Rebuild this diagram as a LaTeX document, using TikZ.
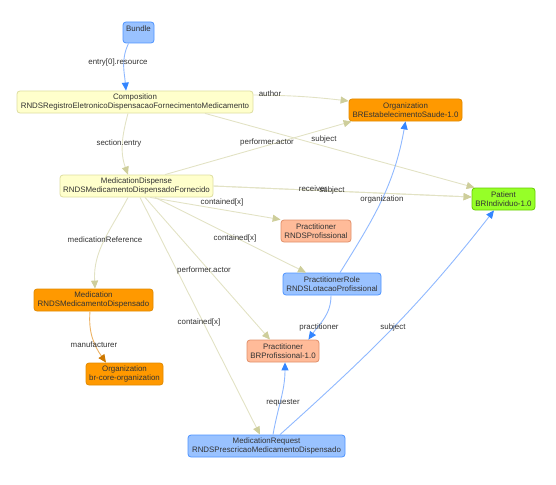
\documentclass[tikz,border=0pt]{standalone}
\usepackage{fontspec}
\setmainfont{Liberation Sans}
\usepackage{tikz}
\usetikzlibrary{arrows.meta}
\definecolor{figtext}{RGB}{51,51,51}
\definecolor{bluefill}{RGB}{153,194,255}
\definecolor{blueline}{RGB}{77,148,255}
\definecolor{compfill}{RGB}{255,255,204}
\definecolor{compline}{RGB}{221,221,160}
\definecolor{orgfill}{RGB}{255,153,0}
\definecolor{orgline}{RGB}{224,138,0}
\definecolor{patfill}{RGB}{150,255,40}
\definecolor{patline}{RGB}{102,204,0}
\definecolor{prfill}{RGB}{255,187,153}
\definecolor{prline}{RGB}{224,144,106}
\definecolor{oedgeline}{RGB}{226,226,196}
\definecolor{oedgetip}{RGB}{206,206,155}
\definecolor{bedgeline}{RGB}{143,184,255}
\definecolor{bedgetip}{RGB}{51,133,255}
\definecolor{medgeline}{RGB}{236,178,100}
\definecolor{medgetip}{RGB}{204,119,0}
\tikzset{
  res/.style   ={rounded corners=3pt, line width=0.8pt, inner sep=0pt, align=center,
                 text=figtext, font=\fontsize{7.9}{8.5}\selectfont},
  resb/.style  ={res, draw=blueline, fill=bluefill},
  resc/.style  ={res, draw=compline, fill=compfill},
  reso/.style  ={res, draw=orgline, fill=orgfill},
  resg/.style  ={res, draw=patline, fill=patfill},
  resp/.style  ={res, draw=prline, fill=prfill},
  elab/.style  ={font=\fontsize{7.9}{8.5}\selectfont, text=figtext, inner sep=0.5pt},
  oedge/.style ={draw=oedgeline, line width=0.9pt, -{Triangle[length=8pt,width=7pt,color=oedgetip]}},
  bedge/.style ={draw=bedgeline, line width=0.9pt, -{Triangle[length=8pt,width=7pt,color=bedgetip]}},
  medge/.style ={draw=medgeline, line width=0.9pt, -{Triangle[length=8pt,width=7pt,color=medgetip]}},
}
\begin{document}
\begin{tikzpicture}[x=1pt,y=-1pt]
  \useasboundingbox (0,0) rectangle (556,484);
  \node[resb,minimum width=31pt,minimum height=21pt] (bundle) at (138.5,32.5) {Bundle\\~};
  \node[resc,minimum width=236pt,minimum height=22pt] (comp) at (135,102) {Composition\\RNDSRegistroEletronicoDispensacaoFornecimentoMedicamento};
  \node[reso,minimum width=113pt,minimum height=22pt] (orgest) at (405.5,110) {Organization\\BREstabelecimentoSaude-1.0};
  \node[resc,minimum width=153pt,minimum height=22pt] (mdisp) at (136.5,186) {MedicationDispense\\RNDSMedicamentoDispensadoFornecido};
  \node[resg,minimum width=63pt,minimum height=22pt] (patient) at (503.5,199) {Patient\\BRIndividuo-1.0};
  \node[resp,minimum width=70pt,minimum height=22pt] (pract) at (316,231) {Practitioner\\RNDSProfissional};
  \node[resb,minimum width=98pt,minimum height=22pt] (prole) at (332,284) {PractitionerRole\\RNDSLotacaoProfissional};
  \node[reso,minimum width=119pt,minimum height=22pt] (med) at (93.5,300) {Medication\\RNDSMedicamentoDispensado};
  \node[resp,minimum width=72pt,minimum height=22pt] (practbr) at (283,351) {Practitioner\\BRProfissional-1.0};
  \node[reso,minimum width=77pt,minimum height=22pt] (orgbr) at (124.5,374) {Organization\\br-core-organization};
  \node[resb,minimum width=157pt,minimum height=22pt] (mreq) at (266.5,446) {MedicationRequest\\RNDSPrescricaoMedicamentoDispensado};

  \draw[bedge] ([xshift=-10pt]bundle.south) to[out=-115,in=95] ([xshift=-9pt]comp.north);
  \draw[oedge] ([yshift=7pt]comp.east) to[bend left=3] ([yshift=9pt]orgest.west);
  \draw[oedge] ([xshift=70pt]comp.south) -- ([xshift=3pt]patient.north west);
  \draw[oedge] ([xshift=-7pt]comp.south) to[out=-105,in=110] ([xshift=-8.5pt]mdisp.north);
  \draw[oedge] ([xshift=28.5pt]mdisp.north) -- ([xshift=3pt]orgest.south west);
  \draw[oedge] (mdisp.east) -- ([yshift=2pt]patient.west);
  \draw[oedge] (mdisp.east) -- ([yshift=2pt]patient.west);
  \draw[oedge] ([xshift=13.5pt]mdisp.south) -- (pract.north west);
  \draw[oedge] ([xshift=18.5pt]mdisp.south) -- ([xshift=-26pt]prole.north);
  \draw[oedge] ([xshift=-8.5pt]mdisp.south) to[out=-118,in=93] ([xshift=1.5pt]med.north);
  \draw[oedge] ([xshift=8.5pt]mdisp.south) -- ([xshift=-13pt]practbr.north);
  \draw[oedge] ([xshift=3.5pt]mdisp.south) -- ([xshift=-6.5pt]mreq.north);
  \draw[bedge] ([xshift=8pt]prole.north) to[out=58,in=-100] (orgest.south);
  \draw[bedge] ([xshift=-1pt]prole.south) to[out=-90,in=55] ([xshift=-11pt]practbr.north east);
  \draw[bedge] ([xshift=6.5pt]mreq.north) to[out=80,in=-90] ([xshift=2pt]practbr.south);
  \draw[bedge] ([xshift=13.5pt]mreq.north) to[out=42,in=-128] ([xshift=-9.5pt]patient.south);
  \draw[medge] ([xshift=-3.5pt]med.south) to[out=-95,in=125] ([xshift=-18.5pt]orgbr.north);

  \node[elab] (lentry) at (118,62) {entry[0].resource};
  \node[elab] (lauthor) at (270,94) {author};
  \node[elab] (lcsubj) at (324,139) {subject};
  \node[elab] (lsect) at (119,143) {section.entry};
  \node[elab] (lperf) at (267,142) {performer.actor};
  \node[elab] (lrecv) at (313,189) {receiver};
  \node[elab] (ldsubj) at (332,190) {subject};
  \node[elab] (lorg) at (382,199) {organization};
  \node[elab] (lcont) at (222,202) {contained[x]};
  \node[elab] (lcontr) at (235,238) {contained[x]};
  \node[elab] (lmedref) at (105,240) {medicationReference};
  \node[elab] (lperfp) at (204,270) {performer.actor};
  \node[elab] (lcontq) at (199,322) {contained[x]};
  \node[elab] (lpract) at (319,327) {practitioner};
  \node[elab] (lrsubj) at (393,327) {subject};
  \node[elab] (lmanuf) at (94,345) {manufacturer};
  \node[elab] (lreq) at (283,403) {requester};
\end{tikzpicture}
\end{document}
